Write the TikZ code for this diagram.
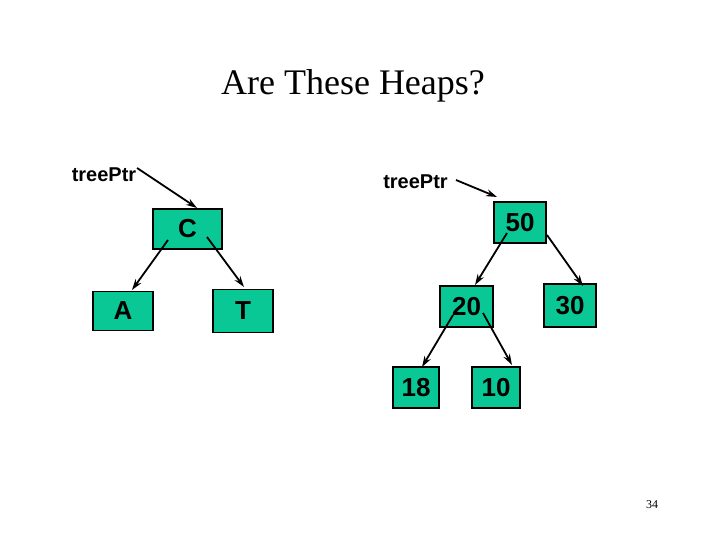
\documentclass[tikz,border=0pt]{standalone}
\usepackage{fontspec}
\setmainfont{Liberation Serif}
\newfontfamily\arialf{Liberation Sans}
\usetikzlibrary{calc,arrows.meta}
\definecolor{heapgreen}{RGB}{10,200,150}
\tikzset{
  box/.style={draw=black,line width=1.8pt,fill=heapgreen,inner sep=0pt,
    font=\arialf\bfseries\fontsize{26}{30}\selectfont},
  ptrlabel/.style={inner sep=0pt,font=\arialf\bfseries\fontsize{20}{24}\selectfont},
  link/.style={line width=1.8pt,-{Stealth[length=11pt,width=7pt]}}
}
\begin{document}
\begin{tikzpicture}[x=1pt,y=-1pt]
\useasboundingbox (0,0) rectangle (720,540);
\node[font=\fontsize{36}{40}\selectfont] (title) at (353,86) {Are These Heaps?};
\node[font=\fontsize{12}{14}\selectfont] (page) at (652,505) {34};
% left tree
\node[ptrlabel] (tp1) at (104,175) {treePtr};
\node[box,minimum width=69pt,minimum height=40pt] (C) at (187.5,229) {C};
\node[box,minimum width=60pt,minimum height=39pt] (A) at (123,311) {A};
\node[box,minimum width=60pt,minimum height=43pt] (T) at (243,311) {T};
% right tree
\node[ptrlabel] (tp2) at (415.5,182) {treePtr};
\node[box,minimum width=52pt,minimum height=41pt] (n50) at (520,222.5) {50};
\node[box,minimum width=53pt,minimum height=41pt] (n20) at (466.5,306.5) {20};
\node[box,minimum width=52pt,minimum height=43pt] (n30) at (570,305.5) {30};
\node[box,minimum width=46pt,minimum height=41pt] (n18) at (416,387.5) {18};
\node[box,minimum width=48pt,minimum height=41pt] (n10) at (496,387.5) {10};
% connectors
\draw[link] ($(tp1.center)+(33,-7)$) -- ($(C.center)+(9.5,-21)$);
\draw[link] ($(C.center)+(-19.5,11)$) -- ($(A.center)+(9,-21)$);
\draw[link] ($(C.center)+(19.5,8)$) -- ($(T.center)+(1,-24)$);
\draw[link] ($(tp2.center)+(40.5,-2)$) -- ($(n50.center)+(-23,-25.5)$);
\draw[link] ($(n50.center)+(-13,10.5)$) -- ($(n20.center)+(8.5,-21.5)$);
\draw[link] ($(n50.center)+(27,12.5)$) -- ($(n30.center)+(13,-19.5)$);
\draw[link] ($(n20.center)+(-13.5,8.5)$) -- ($(n18.center)+(6,-20.5)$);
\draw[link] ($(n20.center)+(16.5,6.5)$) -- ($(n10.center)+(16,-22.5)$);
\end{tikzpicture}
\end{document}
